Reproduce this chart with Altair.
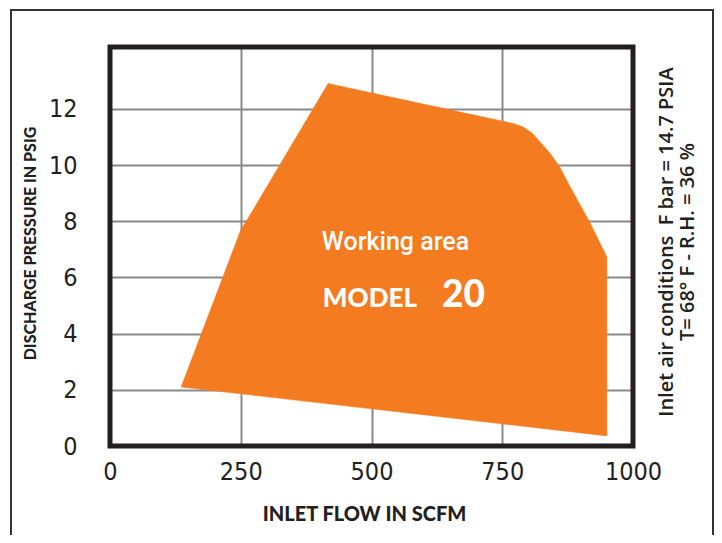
import altair as alt
import pandas as pd

# Working-area outline: inlet flow (SCFM) vs discharge pressure (PSIG)
flow = [136, 250, 270, 417, 756, 774, 790, 807, 841, 860, 880, 918, 937, 950, 950]
pressure = [2.10, 7.69, 8.29, 12.90, 11.54, 11.46, 11.35, 11.14, 10.43, 9.93, 9.22, 7.94, 7.22, 6.73, 0.36]

x_ticks = [0, 250, 500, 750, 1000]
y_ticks = [0, 2, 4, 6, 8, 10, 12]

label_text = ["Working area", "MODEL", "20"]
label_x = [405, 407, 635]
label_y = [6.98, 4.95, 4.95]

note_lines = ["Inlet air conditions\u00a0\u00a0F bar = 14.7 PSIA", "T= 68\u00b0 F - R.H. = 36 %"]

W, H = 523, 399
INK = "#231f20"
ORANGE = "#F47B20"
NUM_FONT = "'DejaVu Sans Condensed', Roboto, sans-serif"

area_df = pd.DataFrame({"flow": flow, "pressure": pressure, "order": list(range(len(flow)))})
lab_df = pd.DataFrame({"flow": label_x, "pressure": label_y, "txt": label_text})
one = pd.DataFrame({"a": [0]})

xscale = alt.Scale(domain=[0, 1000], nice=False, zero=False)
yscale = alt.Scale(domain=[0, 14.2], nice=False, zero=False)

xaxis = alt.Axis(values=x_ticks, format="d", grid=True, gridColor="#8a8a8a", gridWidth=2, ticks=False,
                 domain=False, labelFont=NUM_FONT, labelFontSize=25,
                 labelColor=INK, labelPadding=13, labelFlush=False,
                 title="INLET FLOW IN SCFM", titleFont="Lato", titleFontWeight=900,
                 titleFontSize=20, titleColor=INK, titlePadding=20, titleX=254)
yaxis = alt.Axis(values=y_ticks, format="d", grid=True, gridColor="#8a8a8a", gridWidth=2, ticks=False,
                 domain=False, labelFont=NUM_FONT, labelFontSize=25,
                 labelColor=INK, labelPadding=33, labelFlush=False,
                 title="DISCHARGE PRESSURE IN PSIG", titleFont="Lato", titleFontWeight=900,
                 titleFontSize=16, titleColor=INK, titlePadding=10, titleY=196)

poly = alt.Chart(area_df).mark_line(
    fill=ORANGE, stroke=ORANGE, strokeWidth=0.5, interpolate="linear-closed"
).encode(
    x=alt.X("flow:Q", scale=xscale, axis=xaxis),
    y=alt.Y("pressure:Q", scale=yscale, axis=yaxis),
    order="order:Q",
)

def lab(i, **kw):
    return alt.Chart(lab_df.iloc[[i]]).mark_text(
        align="left", baseline="alphabetic", color="white", **kw
    ).encode(
        x=alt.X("flow:Q", scale=xscale),
        y=alt.Y("pressure:Q", scale=yscale),
        text="txt:N",
    )

t1 = lab(0, font="Roboto", fontWeight=500, fontSize=25)
t2 = lab(1, font="Lato", fontWeight=900, fontSize=26)
t3 = lab(2, font="Lato", fontWeight=900, fontSize=37)

note = alt.Chart(one).mark_text(
    text=note_lines, angle=270, align="center", baseline="middle", lineHeight=21,
    font="Open Sans", fontWeight=600, fontSize=20, color=INK
).encode(x=alt.value(557), y=alt.value(195))

frame = alt.Chart(one).mark_rect(fillOpacity=0, stroke=INK, strokeWidth=5).encode(
    x=alt.value(0), x2=alt.value(W), y=alt.value(0), y2=alt.value(H)
)
outer = alt.Chart(one).mark_rect(fillOpacity=0, stroke="#333333", strokeWidth=2).encode(
    x=alt.value(-99), x2=alt.value(603), y=alt.value(-37), y2=alt.value(600)
)

chart = alt.layer(outer, poly, t1, t2, t3, frame, note).properties(
    width=W, height=H,
    padding={"left": 102, "top": 39, "right": 81, "bottom": 89},
    autosize=alt.AutoSizeParams(type="none"),
).configure_view(stroke=None).configure(background="white")

chart.save("out.html", embed_options={"renderer": "svg", "actions": False})
